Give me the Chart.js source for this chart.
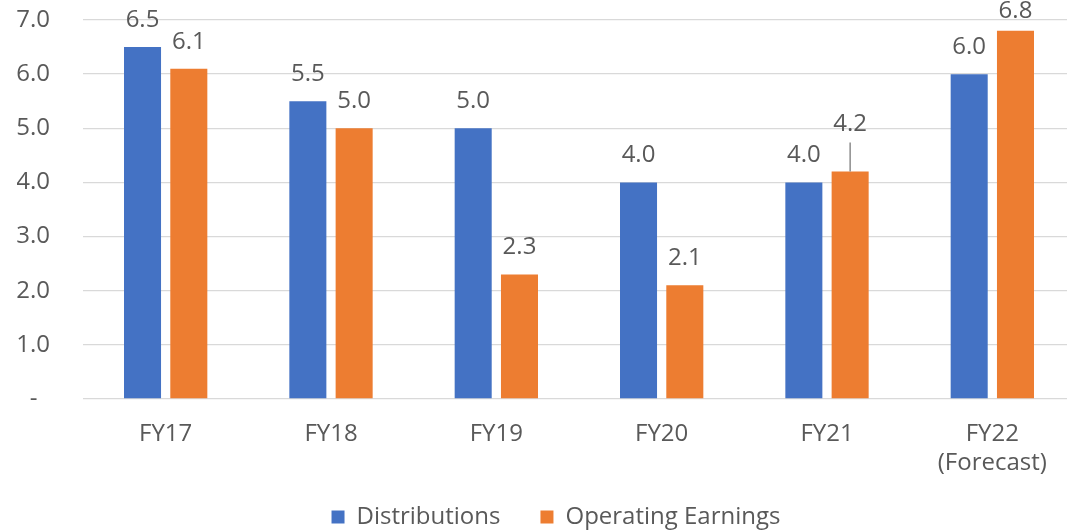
<!DOCTYPE html>
<html lang="en">
<head>
    <meta charset="UTF-8">
    <title>Distributions vs Operating Earnings</title>
    <script src="https://cdn.jsdelivr.net/npm/chart.js"></script>
    <style>
        html, body { margin: 0; padding: 0; background: #fff; overflow: hidden; }
        #wrap { width: 1075px; height: 565px; position: relative; }
    </style>
</head>
<body>
    <div id="wrap"><canvas id="earningsChart"></canvas></div>
    <script>
        const categories = [['FY17'], ['FY18'], ['FY19'], ['FY20'], ['FY21'], ['FY22', '(Forecast)']];
        const distributions = [6.5, 5.5, 5.0, 4.0, 4.0, 6.0];
        const operatingEarnings = [6.1, 5.0, 2.3, 2.1, 4.2, 6.8];
        const yMin = 0, yMax = 7, yStep = 1;

        const textColor = '#595959';
        const fontFamily = '"Open Sans", "Noto Sans", sans-serif';

        // value labels above bars; a few are nudged like in the original (FY21 one has a leader line)
        const barLabels = {
            id: 'barLabels',
            afterLayout(chart, args, opts) {
                // legend sits a bit right of centre and closer to the axis in the original
                const lg = chart.legend;
                lg.left += opts.legendShift.x;
                lg.right += opts.legendShift.x;
                lg.top += opts.legendShift.y;
                lg.bottom += opts.legendShift.y;
            },
            afterDatasetsDraw(chart, args, opts) {
                const ctx = chart.ctx;
                ctx.save();
                ctx.font = '24px ' + fontFamily;
                ctx.fillStyle = textColor;
                ctx.textAlign = 'center';
                ctx.textBaseline = 'middle';
                chart.data.datasets.forEach((ds, di) => {
                    chart.getDatasetMeta(di).data.forEach((bar, i) => {
                        let lift = opts.lift;
                        const c = opts.callouts.find(o => o.dataset === di && o.index === i);
                        if (c) {
                            lift = c.lift;
                            if (c.line) {
                                ctx.strokeStyle = '#8c8c8c';
                                ctx.lineWidth = 1.5;
                                ctx.beginPath();
                                ctx.moveTo(bar.x, bar.y);
                                ctx.lineTo(bar.x, bar.y - c.line);
                                ctx.stroke();
                            }
                        }
                        ctx.fillText(ds.data[i].toFixed(1), bar.x, bar.y - lift);
                    });
                });
                ctx.restore();
            }
        };

        const ctx = document.getElementById('earningsChart').getContext('2d');
        new Chart(ctx, {
            type: 'bar',
            data: {
                labels: categories,
                datasets: [
                    {
                        label: 'Distributions',
                        data: distributions,
                        backgroundColor: '#4472C4',
                        barPercentage: 0.8,
                        categoryPercentage: 0.56
                    },
                    {
                        label: 'Operating Earnings',
                        data: operatingEarnings,
                        backgroundColor: '#ED7D31',
                        barPercentage: 0.8,
                        categoryPercentage: 0.56
                    }
                ]
            },
            plugins: [barLabels],
            options: {
                responsive: true,
                maintainAspectRatio: false,
                animation: false,
                layout: { padding: { left: 17, top: 20, right: 0, bottom: 0 } },
                scales: {
                    x: {
                        grid: { display: false },
                        border: { display: false },
                        ticks: {
                            color: textColor,
                            font: { family: fontFamily, size: 24, lineHeight: 1.21 },
                            padding: 13,
                            maxRotation: 0
                        }
                    },
                    y: {
                        min: yMin,
                        max: yMax,
                        grid: { color: '#D9D9D9', lineWidth: 1.3, drawTicks: false },
                        border: { display: false },
                        ticks: {
                            stepSize: yStep,
                            color: textColor,
                            font: { family: fontFamily, size: 24 },
                            padding: 33,
                            callback: v => v === 0 ? '-\u00A0\u00A0' : v.toFixed(1)
                        },
                        afterFit: scale => {
                            // tick padding would otherwise also be reserved above/below and on the left
                            scale.width = 66;
                            scale.paddingTop = 0;
                            scale.paddingBottom = 0;
                        }
                    }
                },
                plugins: {
                    legend: {
                        display: true,
                        position: 'bottom',
                        labels: {
                            color: textColor,
                            font: { family: fontFamily, size: 24 },
                            boxWidth: 13,
                            boxHeight: 13,
                            padding: 40
                        }
                    },
                    tooltip: { enabled: false },
                    barLabels: {
                        lift: 27,
                        legendShift: { x: 10, y: -26 },
                        callouts: [
                            { dataset: 1, index: 4, lift: 47, line: 29 },
                            { dataset: 1, index: 5, lift: 20 }
                        ]
                    }
                }
            }
        });
    </script>
</body>
</html>
